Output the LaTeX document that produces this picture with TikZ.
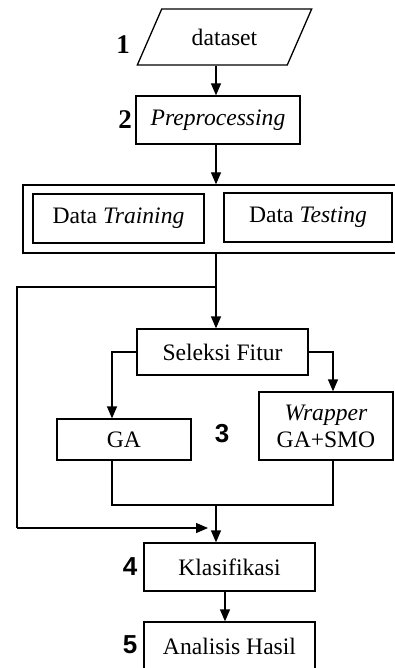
\documentclass[tikz,border=0pt]{standalone}
\usepackage{fontspec}
\setmainfont{Liberation Serif}
\newfontfamily\numsans{Liberation Sans}
\usetikzlibrary{arrows.meta,shapes.geometric}

\tikzset{
    box/.style={draw,line width=0.65pt,inner sep=0pt,align=center,font=\fontsize{11.8}{13.5}\selectfont},
    line/.style={line width=0.65pt},
    arr/.style={line width=0.65pt,-{Triangle[width=5pt,length=6pt]}},
    numserif/.style={font=\fontsize{13.5}{15}\selectfont\bfseries},
    numsansbold/.style={font=\numsans\fontsize{13}{15}\selectfont\bfseries},
}

\begin{document}
\begin{tikzpicture}[x=0.5pt,y=-0.5pt]
    \useasboundingbox (0,0) rectangle (395,668);
    \clip (0,0) rectangle (395,668);
    % spines
        \coordinate (mid) at (216,0);
        \coordinate (midb) at (225,0);
        \coordinate (lx) at (112,0);
        \coordinate (rx) at (333,0);
    % input
        \node[box,trapezium,trapezium left angle=52.5,trapezium right angle=127.5,
              trapezium stretches=true,minimum width=87.5pt,minimum height=28pt]
              (data) at (224.5,37) {dataset};
        \node[numserif] (n1) at (123,45) {1};
    % preprocessing
        \node[box,minimum width=82pt,minimum height=24pt] (prep) at (218,120) {\textit{Preprocessing}};
        \node[numserif] (n2) at (125,120) {2};
    % split data
        \node[box,minimum width=198.5pt,minimum height=34pt] (split) at (221.5,219) {};
        \node[box,minimum width=85.5pt,minimum height=24.5pt] (train) at (118.5,218.5) {Data \textit{Training}};
        \node[box,minimum width=84pt,minimum height=24.5pt] (test) at (308,217.5) {Data \textit{Testing}};
    % feature selection
        \node[box,minimum width=85.5pt,minimum height=23pt] (sel) at (222.5,352) {Seleksi Fitur};
        \node[box,minimum width=67pt,minimum height=20.5pt] (ga) at (124,439.5) {GA};
        \node[box,minimum width=67pt,minimum height=34pt] (wrap) at (326,426) {\textit{Wrapper}\\GA+SMO};
        \node[numsansbold] (n3) at (222,434) {3};
    % classification
        \node[box,minimum width=85.5pt,minimum height=24pt] (klas) at (229.5,567) {Klasifikasi};
        \node[numsansbold] (n4) at (130,567) {4};
        \node[box,minimum width=85.5pt,minimum height=24pt] (ana) at (229.5,646) {Analisis Hasil};
        \node[numsansbold] (n5) at (130,645) {5};
    % connectors
        \coordinate (fork) at (216,287);
        \coordinate (back) at (17,528);
        \coordinate (backend) at (208,528);
        \coordinate (join) at (216,505);
        \draw[arr] (mid |- data.south) -- (mid |- prep.north);
        \draw[arr] (mid |- prep.south) -- (mid |- split.north);
        \draw[arr] (mid |- split.south) -- (mid |- sel.north);
        \draw[line] (fork) -| (back);
        \draw[arr] (back) -- (backend);
        \draw[arr] (sel.west) -| (lx |- ga.north);
        \draw[arr] (sel.east) -| (rx |- wrap.north);
        \draw[line] (lx |- ga.south) |- (join) -| (rx |- wrap.south);
        \draw[arr] (join) -- (mid |- klas.north);
        \draw[arr] (midb |- klas.south) -- (midb |- ana.north);
\end{tikzpicture}
\end{document}
